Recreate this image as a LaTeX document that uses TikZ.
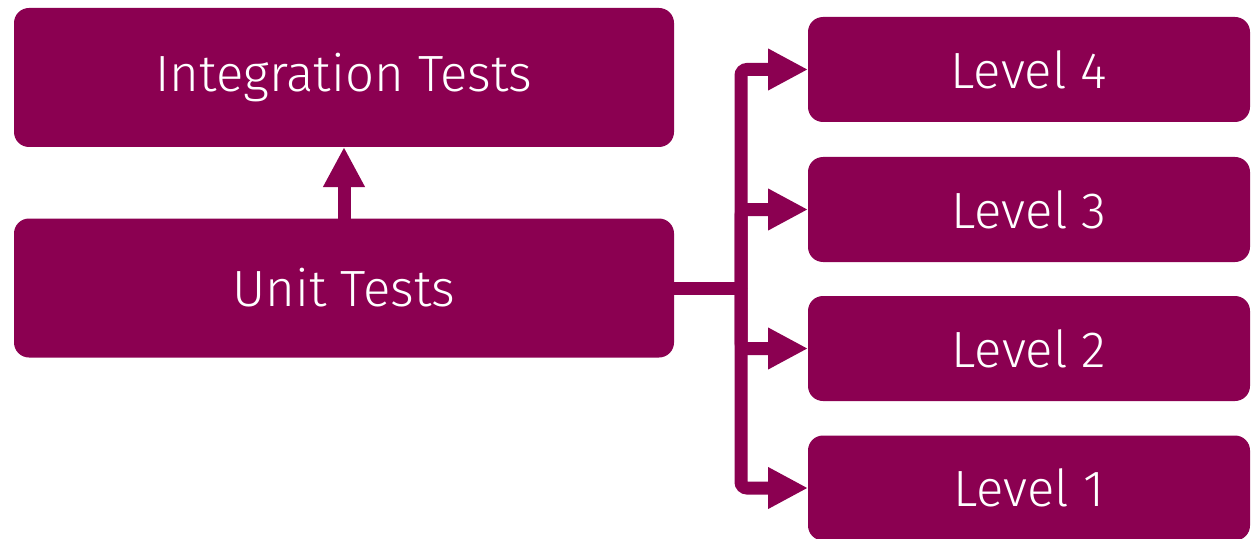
\documentclass[tikz,border=0pt]{standalone}
\usepackage{fontspec}
\setmainfont{Fira Sans Light}
\usetikzlibrary{arrows.meta}
\definecolor{plum}{RGB}{139,0,81}
\tikzset{
  box/.style={fill=plum, text=white, rounded corners=0.3cm, outer sep=0pt, inner sep=0pt, align=center, font=\fontsize{29}{34}\selectfont},
  bigbox/.style={box, minimum width=13.2cm, minimum height=2.78cm},
  levelbox/.style={box, minimum width=8.84cm, minimum height=2.1cm},
  link/.style={draw=plum, line width=0.26cm, -{Triangle[length=0.8cm, width=0.78cm]}}
}
\begin{document}
\begin{tikzpicture}
        \useasboundingbox (0,0) rectangle (25.12,10.76);

        % Test boxes
        \node[bigbox] (integ) at (6.88,9.21) {Integration Tests};
        \node[bigbox] (unit) at (6.88,5.0) {Unit Tests};

        % Level boxes
        \node[levelbox] (l4) at (20.58,9.37) {Level 4};
        \node[levelbox] (l3) at (20.58,6.57) {Level 3};
        \node[levelbox] (l2) at (20.58,3.79) {Level 2};
        \node[levelbox] (l1) at (20.58,1.0) {Level 1};

        % Unit -> Integration
        \draw[link] (unit) -- (integ);

        % Unit -> Levels
        \coordinate (trunk) at (14.82,5.0);
        \draw[link, -] (unit.east) -- (trunk);
        \foreach \lv in {l4,l3,l2,l1}
            \draw[link, rounded corners=0.12cm] (trunk) |- (\lv.west);
    \end{tikzpicture}
\end{document}
